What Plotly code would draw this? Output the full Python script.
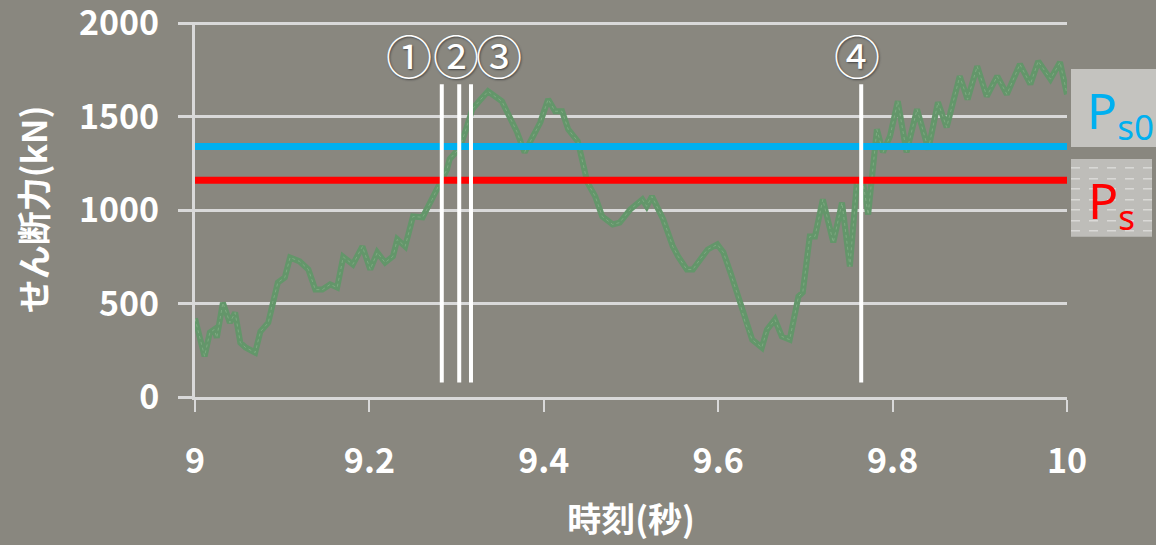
import plotly.graph_objects as go

# Shear force time history (time in s, shear force in kN)
time_s = [
    9.000, 9.011, 9.017, 9.022, 9.025, 9.032, 9.040, 9.046, 9.052, 9.058,
    9.069, 9.075, 9.084, 9.089, 9.095, 9.103, 9.109, 9.120, 9.130, 9.138,
    9.146, 9.155, 9.163, 9.170, 9.181, 9.192, 9.201, 9.209, 9.218, 9.227,
    9.232, 9.241, 9.250, 9.261, 9.272, 9.281, 9.289, 9.292, 9.304, 9.312,
    9.318, 9.327, 9.336, 9.352, 9.358, 9.369, 9.378, 9.386, 9.396, 9.405,
    9.413, 9.421, 9.428, 9.439, 9.445, 9.450, 9.459, 9.467, 9.479, 9.487,
    9.499, 9.513, 9.518, 9.524, 9.537, 9.548, 9.554, 9.564, 9.571, 9.579,
    9.588, 9.599, 9.606, 9.614, 9.623, 9.631, 9.639, 9.650, 9.656, 9.665,
    9.673, 9.682, 9.692, 9.697, 9.705, 9.711, 9.720, 9.732, 9.742, 9.751,
    9.759, 9.766, 9.772, 9.776, 9.782, 9.789, 9.797, 9.806, 9.816, 9.828,
    9.841, 9.852, 9.862, 9.877, 9.886, 9.897, 9.908, 9.920, 9.931, 9.946,
    9.958, 9.967, 9.981, 9.992, 10.000,
]
shear_kN = [
    420, 218, 345, 361, 318, 505, 398, 452, 291, 265,
    238, 350, 398, 505, 613, 640, 747, 726, 683, 575,
    575, 603, 586, 750, 710, 806, 683, 774, 720, 753,
    844, 806, 967, 962, 1058, 1149, 1219, 1273, 1337, 1450,
    1541, 1590, 1637, 1583, 1524, 1422, 1310, 1380, 1471, 1594,
    1530, 1530, 1433, 1369, 1256, 1149, 1074, 967, 924, 934,
    1004, 1058, 1021, 1074, 951, 806, 753, 683, 683, 737,
    790, 817, 774, 667, 538, 398, 307, 265, 361, 415,
    324, 307, 538, 560, 860, 860, 1058, 828, 1041, 699,
    1149, 1149, 977, 1160, 1433, 1310, 1396, 1584, 1310, 1541,
    1326, 1578, 1444, 1718, 1594, 1771, 1610, 1718, 1621, 1782,
    1675, 1798, 1702, 1793, 1621,
]

# Reference shear levels
Ps0 = 1342
Ps = 1160

# Event markers: vertical line times, label positions and texts
marker_times = [9.283, 9.303, 9.3165, 9.764]
marker_labels = ["①", "②", "③", "④"]
label_times = [9.2454, 9.2993, 9.3486, 9.7592]
label_level = 1835
marker_span = [77, 1675]

x_ticks = [9, 9.2, 9.4, 9.6, 9.8, 10]
x_tick_text = ["9", "9.2", "9.4", "9.6", "9.8", "10"]
y_ticks = [0, 500, 1000, 1500, 2000]
y_top = 2008

BG = "#89877f"
GRID = "#d9d9d9"
FONT = "Noto Sans CJK JP"

# pixel helpers for the side boxes (plot area spans 195..1067 px, 397..22 px)
PL, PR, PB, PT = 195.0, 1067.0, 397.3, 22.0


def px_x(px):
    return (px - PL) / (PR - PL)


def px_y(py):
    return (PB - py) / (PB - PT)


fig = go.Figure()

fig.add_trace(go.Scatter(
    x=time_s, y=shear_kN, mode="lines",
    line=dict(color="#63966a", width=6),
    hoverinfo="skip", showlegend=False,
))
fig.add_trace(go.Scatter(
    x=time_s, y=shear_kN, mode="lines",
    line=dict(color="#a6c9a4", width=1, dash="dot"),
    opacity=0.4, hoverinfo="skip", showlegend=False,
))

shapes = []
# Ps0 / Ps levels
shapes.append(dict(type="line", xref="x", yref="y", x0=9, x1=10.004,
                   y0=Ps0, y1=Ps0, line=dict(color="#00b0f0", width=7), layer="above"))
shapes.append(dict(type="line", xref="x", yref="y", x0=9, x1=10.004,
                   y0=Ps, y1=Ps, line=dict(color="#ff0000", width=7), layer="above"))
# event lines
for t in marker_times:
    shapes.append(dict(type="line", xref="x", yref="y", x0=t, x1=t,
                       y0=marker_span[0], y1=marker_span[1],
                       line=dict(color="white", width=4), layer="above"))

# side label boxes
shapes.append(dict(type="rect", xref="paper", yref="paper",
                   x0=px_x(1071), x1=px_x(1156), y0=px_y(147), y1=px_y(69),
                   fillcolor="#c4c3bf", line=dict(width=0), layer="above"))
shapes.append(dict(type="rect", xref="paper", yref="paper",
                   x0=px_x(1071), x1=px_x(1152), y0=px_y(237), y1=px_y(159),
                   fillcolor="#bebdb9", line=dict(width=0), layer="above"))
for py in [168, 179, 189, 200, 210, 221, 231]:
    shapes.append(dict(type="line", xref="paper", yref="paper",
                       x0=px_x(1071), x1=px_x(1152), y0=px_y(py), y1=px_y(py),
                       line=dict(color="#e8e8e6", width=1, dash="dash"), layer="above"))

annotations = []
for lx, txt in zip(label_times, marker_labels):
    annotations.append(dict(
        x=lx, y=label_level, xref="x", yref="y", text=txt, showarrow=False,
        font=dict(family=FONT, size=46, color="white", shadow="1px 1px 2px #444"),
        xanchor="center", yanchor="middle",
    ))

annotations.append(dict(
    x=px_x(1120), y=px_y(113), xref="paper", yref="paper",
    text="P<sub>s0</sub>", showarrow=False, xanchor="center", yanchor="middle",
    font=dict(family="Noto Sans", size=50, color="#00b0f0"),
))
annotations.append(dict(
    x=px_x(1111), y=px_y(203), xref="paper", yref="paper",
    text="P<sub>s</sub>", showarrow=False, xanchor="center", yanchor="middle",
    font=dict(family="Noto Sans", size=50, color="#ff0000"),
))

fig.update_layout(
    width=1156, height=545,
    margin=dict(l=195, r=89, t=22, b=148, pad=0),
    paper_bgcolor=BG, plot_bgcolor=BG,
    shapes=shapes, annotations=annotations,
    xaxis=dict(
        range=[9, 10], tickvals=x_ticks, ticktext=x_tick_text,
        showgrid=False, zeroline=False,
        showline=True, linecolor=GRID, linewidth=3,
        ticks="outside", ticklen=12, tickwidth=2, tickcolor=GRID,
        tickfont=dict(family=FONT, size=34, color="white", weight="bold"),
        ticklabelstandoff=20, ticklabeloverflow="allow",
        title=dict(text="時刻(秒)", standoff=27,
                   font=dict(family=FONT, size=34, color="white", weight="bold")),
        automargin=False,
    ),
    yaxis=dict(
        range=[0, y_top], tickvals=y_ticks,
        showgrid=True, gridcolor=GRID, gridwidth=3, zeroline=False,
        showline=True, linecolor=GRID, linewidth=3,
        ticks="outside", ticklen=14, tickwidth=3, tickcolor=GRID,
        tickfont=dict(family=FONT, size=34, color="white", weight="bold"),
        ticklabelstandoff=12, ticklabeloverflow="allow",
        title=dict(text="せん断力(kN)", standoff=22,
                   font=dict(family=FONT, size=34, color="white", weight="bold")),
        automargin=False,
    ),
)

fig.write_html("out.html")
